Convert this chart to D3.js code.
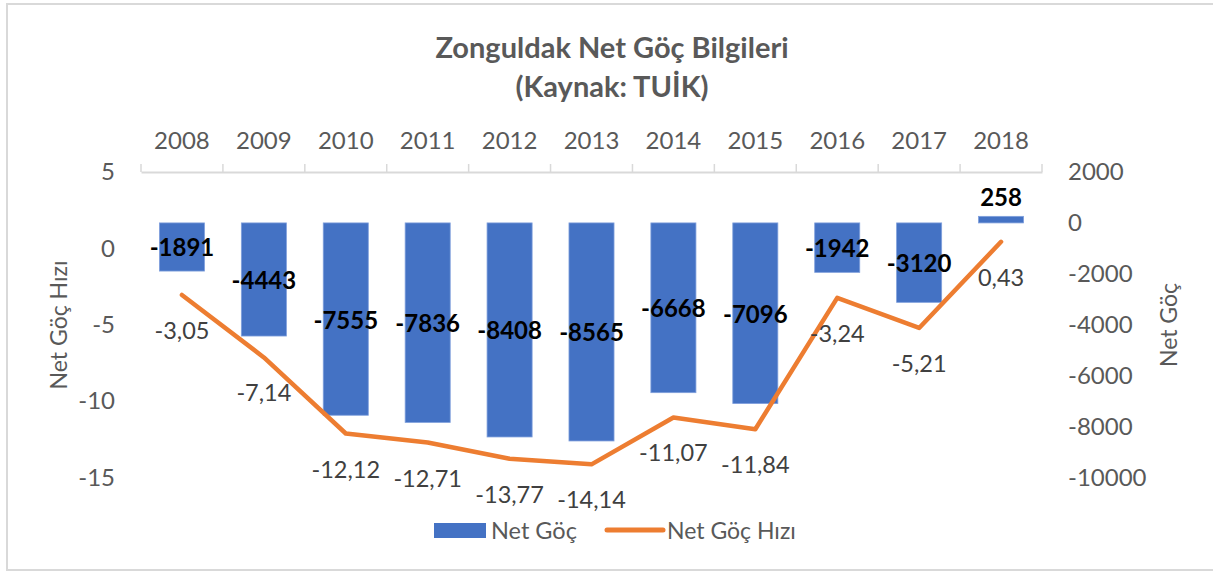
<!DOCTYPE html>
<html>
<head>
<meta charset="utf-8">
<script src="https://cdn.jsdelivr.net/npm/d3@7"></script>
<style>
  html, body { margin: 0; padding: 0; background: #ffffff; }
  svg { display: block; }
  text { font-family: Lato, "Open Sans", "Noto Sans", sans-serif; }
</style>
</head>
<body>
<svg id="chart" width="1213" height="572"></svg>
<script>
const years = ["2008","2009","2010","2011","2012","2013","2014","2015","2016","2017","2018"];
const netGoc = [-1891, -4443, -7555, -7836, -8408, -8565, -6668, -7096, -1942, -3120, 258];
const netGocHizi = [-3.05, -7.14, -12.12, -12.71, -13.77, -14.14, -11.07, -11.84, -3.24, -5.21, 0.43];
const leftTicks = [5, 0, -5, -10, -15];
const rightTicks = [2000, 0, -2000, -4000, -6000, -8000, -10000];
const titleLines = ["Zonguldak Net Göç Bilgileri", "(Kaynak: TUİK)"];
const leftTitle = "Net Göç Hızı";
const rightTitle = "Net Göç";
const legendLabels = ["Net Göç", "Net Göç Hızı"];

const svg = d3.select("#chart");
const W = 1213, H = 572;
const plot = { left: 141, right: 1042, top: 172, bottom: 477.5 };
const gray = "#595959";
const barColor = "#4472C4";
const lineColor = "#ED7D31";
const fmt = v => String(v).replace(".", ",");

// frame
svg.append("rect").attr("x", 7).attr("y", 4).attr("width", W).attr("height", 566)
  .attr("fill", "#fff").attr("stroke", "#d9d9d9").attr("stroke-width", 2);

// title
svg.append("g").selectAll("text").data(titleLines).join("text")
  .attr("x", 612).attr("y", (d, i) => 46 + i * 39)
  .attr("text-anchor", "middle").attr("dominant-baseline", "central")
  .attr("font-size", 29).attr("font-weight", "bold").attr("fill", gray)
  .text(d => d);

const x = d3.scaleBand().domain(years).range([plot.left, plot.right]).padding(0);
const yL = d3.scaleLinear().domain([-15, 5]).range([plot.bottom, plot.top]);
const yR = d3.scaleLinear().domain([-10000, 2000]).range([plot.bottom, plot.top]);

// top category axis
const xAxis = svg.append("g").attr("transform", `translate(0,${plot.top})`)
  .call(d3.axisTop(x).tickSize(0).tickPadding(23));
xAxis.select(".domain").attr("stroke", "#d9d9d9").attr("stroke-width", 2);
xAxis.selectAll("text").attr("font-size", 24).attr("fill", gray)
  .attr("font-family", "Lato, 'Open Sans', sans-serif");
const bounds = years.map(d => x(d)).concat([plot.right]);
svg.append("g").selectAll("line").data(bounds).join("line")
  .attr("x1", d => d).attr("x2", d => d)
  .attr("y1", plot.top).attr("y2", plot.top - 8)
  .attr("stroke", "#d9d9d9").attr("stroke-width", 1.5);

// left axis
const lAxis = svg.append("g").attr("transform", `translate(121,0)`)
  .call(d3.axisLeft(yL).tickValues(leftTicks).tickSize(0).tickPadding(6).tickFormat(d => d));
lAxis.select(".domain").remove();
lAxis.selectAll("text").attr("font-size", 24).attr("fill", gray)
  .attr("font-family", "Lato, 'Open Sans', sans-serif");

// right axis
const rAxis = svg.append("g").attr("transform", `translate(1062,0)`)
  .call(d3.axisRight(yR).tickValues(rightTicks).tickSize(0).tickPadding(6).tickFormat(d => d));
rAxis.select(".domain").remove();
rAxis.selectAll("text").attr("font-size", 24).attr("fill", gray)
  .attr("font-family", "Lato, 'Open Sans', sans-serif");

// axis titles
svg.append("text").attr("transform", "translate(58,325) rotate(-90)")
  .attr("text-anchor", "middle").attr("dominant-baseline", "central")
  .attr("font-size", 23).attr("fill", gray).text(leftTitle);
svg.append("text").attr("transform", "translate(1168,325) rotate(-90)")
  .attr("text-anchor", "middle").attr("dominant-baseline", "central")
  .attr("font-size", 23).attr("fill", gray).text(rightTitle);

// bars
const bw = x.bandwidth() * 0.55;
const cx = d => x(d) + x.bandwidth() / 2;
const barData = years.map((y, i) => ({ year: y, v: netGoc[i] }));
svg.append("g").selectAll("rect").data(barData).join("rect")
  .attr("x", d => cx(d.year) - bw / 2)
  .attr("y", d => Math.min(yR(0), yR(d.v)))
  .attr("width", bw)
  .attr("height", d => Math.abs(yR(d.v) - yR(0)))
  .attr("fill", barColor).attr("stroke", "#7f9fdc").attr("stroke-width", 0.8);

// line
const lineData = years.map((y, i) => ({ year: y, v: netGocHizi[i] }));
svg.append("path").datum(lineData)
  .attr("d", d3.line().x(d => cx(d.year)).y(d => yL(d.v)))
  .attr("fill", "none").attr("stroke", lineColor).attr("stroke-width", 4.5)
  .attr("stroke-linejoin", "round").attr("stroke-linecap", "round");

// bar labels
svg.append("g").selectAll("text").data(barData).join("text")
  .attr("x", d => cx(d.year))
  .attr("y", d => d.v < 0 ? (yR(0) + yR(d.v)) / 2 : yR(d.v) - 20)
  .attr("text-anchor", "middle").attr("dominant-baseline", "central")
  .attr("font-size", 24).attr("font-weight", "bold").attr("fill", "#000")
  .text(d => d.v);

// line labels
svg.append("g").selectAll("text").data(lineData).join("text")
  .attr("x", d => cx(d.year))
  .attr("y", d => yL(d.v) + 35)
  .attr("text-anchor", "middle").attr("dominant-baseline", "central")
  .attr("font-size", 23.5).attr("fill", "#404040")
  .text(d => fmt(d.v));

// legend
const lg = svg.append("g");
lg.append("rect").attr("x", 434).attr("y", 523).attr("width", 52).attr("height", 15).attr("fill", barColor);
lg.append("text").attr("x", 491).attr("y", 530).attr("dominant-baseline", "central")
  .attr("font-size", 23.5).attr("fill", gray).text(legendLabels[0]);
lg.append("line").attr("x1", 607).attr("x2", 663).attr("y1", 530).attr("y2", 530)
  .attr("stroke", lineColor).attr("stroke-width", 5).attr("stroke-linecap", "round");
lg.append("text").attr("x", 667).attr("y", 530).attr("dominant-baseline", "central")
  .attr("font-size", 23).attr("fill", gray).text(legendLabels[1]);
</script>
</body>
</html>
